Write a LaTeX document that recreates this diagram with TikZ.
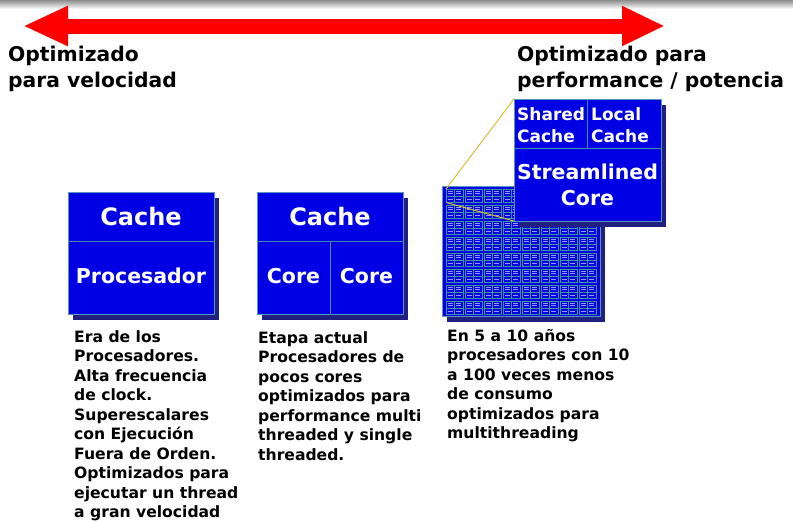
\documentclass[tikz,border=0pt]{standalone}
\usepackage{fontspec}
\setmainfont{DejaVu Sans}
\usepackage{xcolor}
\usepackage{tikz}
\usetikzlibrary{arrows.meta,shadows}
\definecolor{chipblue}{RGB}{0,0,228}
\definecolor{chipedge}{RGB}{84,150,190}
\definecolor{chipline}{RGB}{62,140,165}
\definecolor{chipshadow}{RGB}{32,32,128}
\definecolor{tileedge}{RGB}{60,150,150}
\definecolor{tileink}{RGB}{150,150,250}
\definecolor{zoomline}{RGB}{212,192,60}
\tikzset{
  chip/.style={draw=chipedge, fill=chipblue, line width=1.2, inner sep=0, anchor=north west,
    drop shadow={shadow xshift=4, shadow yshift=5, fill=chipshadow, opacity=1}},
  cell/.style={draw=chipline, line width=0.9},
  tile/.style={draw=tileedge, line width=0.6},
  tinyink/.style={draw=tileink, line width=0.7},
  bigtxt/.style={text=white, inner sep=0, font=\bfseries\fontsize{24}{29}\selectfont},
  midtxt/.style={text=white, inner sep=0, align=center, font=\bfseries\fontsize{20.5}{26}\selectfont},
  smalltxt/.style={text=white, inner sep=0, align=left, anchor=west, font=\bfseries\fontsize{17}{22}\selectfont},
  headtxt/.style={inner sep=0, align=left, anchor=base west, font=\bfseries\fontsize{20.3}{26}\selectfont},
  notetxt/.style={inner sep=0, align=left, anchor=base west, font=\bfseries\fontsize{15.6}{19.5}\selectfont},
  speedarrow/.style={red, line width=15, {Triangle[length=45pt,width=37pt]}-{Triangle[length=43pt,width=37pt]}},
  zoomedge/.style={draw=zoomline, line width=1}
}
% one small core of the big array, col #1 row #2
\newcommand{\minitile}[2]{%
  \pgfmathsetmacro{\mtx}{446+19*#1}%
  \pgfmathsetmacro{\mty}{189+16*#2}%
  \draw[tile] (\mtx,\mty) rectangle ++(17,13.5);
  \draw[tile] ({\mtx+8.5},\mty) -- ++(0,13.5);
  \draw[tile] (\mtx,{\mty+7}) -- ++(17,0);
  \foreach \k in {1.5,10}{%
    \draw[tinyink] ({\mtx+\k},{\mty+2.4}) -- ++(5,0);
    \draw[tinyink] ({\mtx+\k},{\mty+4.8}) -- ++(5,0);
    \draw[tinyink] ({\mtx+\k},{\mty+10.3}) -- ++(5,0);}}

\begin{document}
\begin{tikzpicture}[x=1pt,y=-1pt]
  \useasboundingbox (0,0) rectangle (793,520);
  \shade[top color=black!45, bottom color=white] (0,0) rectangle (793,9);

  % speed vs. performance scale (text anchored at its last baseline)
  \coordinate (slow) at (23,26);
  \coordinate (fast) at (665,26);
  \draw[speedarrow] (slow) -- (fast);
  \node[headtxt] (speedlbl) at (8,87) {Optimizado\\para velocidad};
  \node[headtxt] (perflbl) at (517,87) {Optimizado para\\performance / potencia};

  % single big processor
  \node[chip, minimum width=146, minimum height=122] (procA) at (68,192) {};
  \draw[cell] ([yshift=-49]procA.north west) -- ([yshift=-49]procA.north east);
  \node[bigtxt] (cacheA) at (141,217) {Cache};
  \node[midtxt] (coreA) at (141,276) {Procesador};
  \node[notetxt] (noteA) at (74,517.5) {Era de los\\Procesadores.\\Alta frecuencia\\de clock.\\Superescalares\\con Ejecución\\Fuera de Orden.\\Optimizados para\\ejecutar un thread\\a gran velocidad};

  % few cores
  \node[chip, minimum width=146, minimum height=122] (procB) at (257,192) {};
  \draw[cell] ([yshift=-49]procB.north west) -- ([yshift=-49]procB.north east);
  \draw[cell] ([yshift=-49]procB.north) -- (procB.south);
  \node[bigtxt] (cacheB) at (330,217) {Cache};
  \node[midtxt] (coreB1) at (293.5,276) {Core};
  \node[midtxt] (coreB2) at (366.5,276) {Core};
  \node[notetxt] (noteB) at (258,460) {Etapa actual\\Procesadores de\\pocos cores\\optimizados para\\performance multi\\threaded y single\\threaded.};

  % many small cores
  \node[chip, minimum width=158, minimum height=130] (procC) at (442,186) {};
  \foreach \i in {0,...,7}{\foreach \j in {0,...,7}{\minitile{\i}{\j}}}
  \coordinate (tileNW) at (446,189);
  \coordinate (tileSW) at (446,202.5);
  \coordinate (zoomNW) at (514,99);
  \coordinate (zoomSW) at (514,221);
  \draw[zoomedge] (tileNW) -- (zoomNW);
  \draw[zoomedge] (tileSW) -- (zoomSW);
  \node[chip, minimum width=147, minimum height=122] (zoom) at (zoomNW) {};
  \draw[cell] ([yshift=-49]zoom.north west) -- ([yshift=-49]zoom.north east);
  \draw[cell] ([xshift=-0.5]zoom.north) -- ([xshift=-0.5,yshift=-49]zoom.north);
  \node[smalltxt] (shared) at (517,125) {Shared\\Cache};
  \node[smalltxt] (local) at (591,125) {Local\\Cache};
  \node[midtxt] (slim) at (587.5,185) {Streamlined\\Core};
  \node[notetxt] (noteC) at (447,438.5) {En 5 a 10 años\\procesadores con 10\\a 100 veces menos\\de consumo\\optimizados para\\multithreading};
\end{tikzpicture}
\end{document}
